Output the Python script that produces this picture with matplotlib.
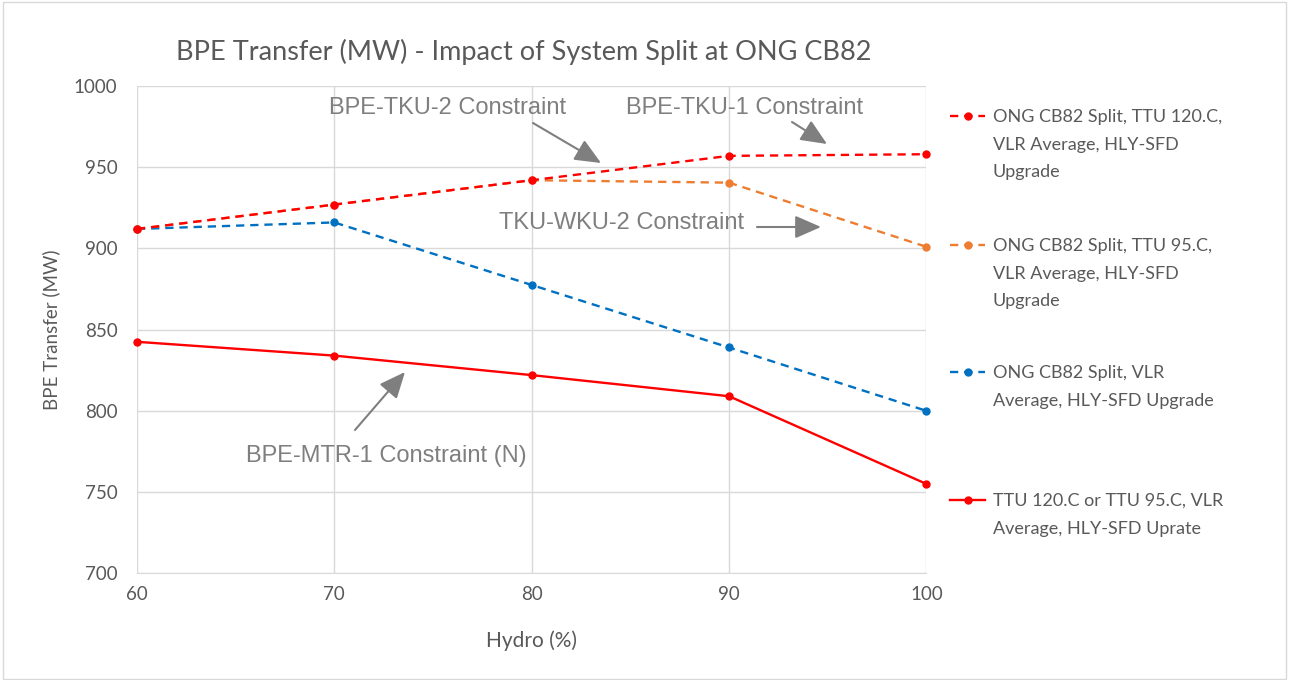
import matplotlib.pyplot as plt
from matplotlib.lines import Line2D
from matplotlib.patches import Rectangle, FancyArrowPatch

# Данные
hydro = [60, 70, 80, 90, 100]
split_120 = [912, 927, 942, 957, 958]
split_95 = [912, 927, 942, 940.5, 901]
split_vlr = [912, 916, 877.5, 839, 800]
no_split = [842.5, 834, 822, 809, 755]

labels = [
    "ONG CB82 Split, TTU 120.C,\nVLR Average, HLY-SFD\nUpgrade",
    "ONG CB82 Split, TTU 95.C,\nVLR Average, HLY-SFD\nUpgrade",
    "ONG CB82 Split, VLR\nAverage, HLY-SFD Upgrade",
    "TTU 120.C or TTU 95.C, VLR\nAverage, HLY-SFD Uprate",
]
colors = ["#ff0000", "#ed7d31", "#0070c0", "#ff0000"]
styles = [(0, (3.5, 2.5)), (0, (3.5, 2.5)), (0, (3.5, 2.5)), "-"]

plt.rcParams['font.family'] = ['Lato', 'DejaVu Sans']
gray = "#595959"
arial = ['Liberation Sans', 'DejaVu Sans']

fig = plt.figure(figsize=(12.92, 6.8), dpi=100)
ax = fig.add_axes([0.106, 0.157, 0.611, 0.7165])

series = [split_120, split_95, split_vlr, no_split]
# рисуем в обратном порядке, чтобы оранжевая линия легла поверх красной
for vals, c, ls in reversed(list(zip(series, colors, styles))):
    ax.plot(hydro, vals, color=c, linestyle=ls, linewidth=1.7,
            marker='o', markersize=5, clip_on=False, zorder=3)

ax.set_xlim(60, 100)
ax.set_ylim(700, 1000)
ax.set_xticks(hydro)
ax.set_yticks(range(700, 1001, 50))
ax.grid(True, color="#d9d9d9", linewidth=1)
for s in ["top", "right", "left"]:
    ax.spines[s].set_visible(False)
ax.spines["bottom"].set_color("#d9d9d9")
ax.tick_params(length=0, labelsize=13.5, labelcolor=gray)
ax.tick_params(axis='y', pad=14)
ax.tick_params(axis='x', pad=9)
ax.set_xlabel("Hydro (%)", fontsize=15, color=gray, labelpad=20)
ax.set_ylabel("BPE Transfer (MW)", fontsize=13.5, color=gray, labelpad=10)

fig.text(0.405, 0.923, "BPE Transfer (MW) - Impact of System Split at ONG CB82",
         ha="center", va="center", fontsize=19.5, color=gray)

# Подписи ограничений
arrow = dict(arrowstyle="-|>,head_length=0.8,head_width=0.35", color="#7f7f7f",
             lw=1.5, mutation_scale=20, shrinkA=0, shrinkB=0)
def note(text, xy_px, tip_px, tail_px):
    fig.text(xy_px[0] / 1292, 1 - xy_px[1] / 680, text, ha="center", va="center",
             fontsize=17, color="#7f7f7f", family=arial)
    fig.add_artist(FancyArrowPatch(
        (tail_px[0] / 1292, 1 - tail_px[1] / 680),
        (tip_px[0] / 1292, 1 - tip_px[1] / 680),
        transform=fig.transFigure, **arrow))

note("BPE-TKU-2 Constraint", (448, 108), (601, 163), (533, 123))
note("BPE-TKU-1 Constraint", (745, 108), (827, 144), (792, 122))
note("TKU-WKU-2 Constraint", (622, 223), (821, 227), (757, 227))
note("BPE-MTR-1 Constraint (N)", (386, 456), (405, 372), (355, 430))

# Легенда
ys = [116, 245, 372, 500]
for y, lab, c, ls in zip(ys, labels, colors, styles):
    yf = 1 - y / 680
    fig.add_artist(Line2D([950 / 1292, 985 / 1292], [yf, yf], color=c, linestyle=ls,
                          linewidth=1.7, transform=fig.transFigure))
    fig.add_artist(Line2D([967.5 / 1292], [yf], color=c, marker='o', markersize=5,
                          transform=fig.transFigure))
    fig.text(993 / 1292, yf + 7 / 680, lab, ha="left", va="top", fontsize=13,
             color=gray, linespacing=1.9)

fig.add_artist(Rectangle((0.002, 0.002), 0.993, 0.995, fill=False, edgecolor="#d9d9d9",
                         linewidth=1, transform=fig.transFigure))

fig.savefig("out.png", dpi=100)
